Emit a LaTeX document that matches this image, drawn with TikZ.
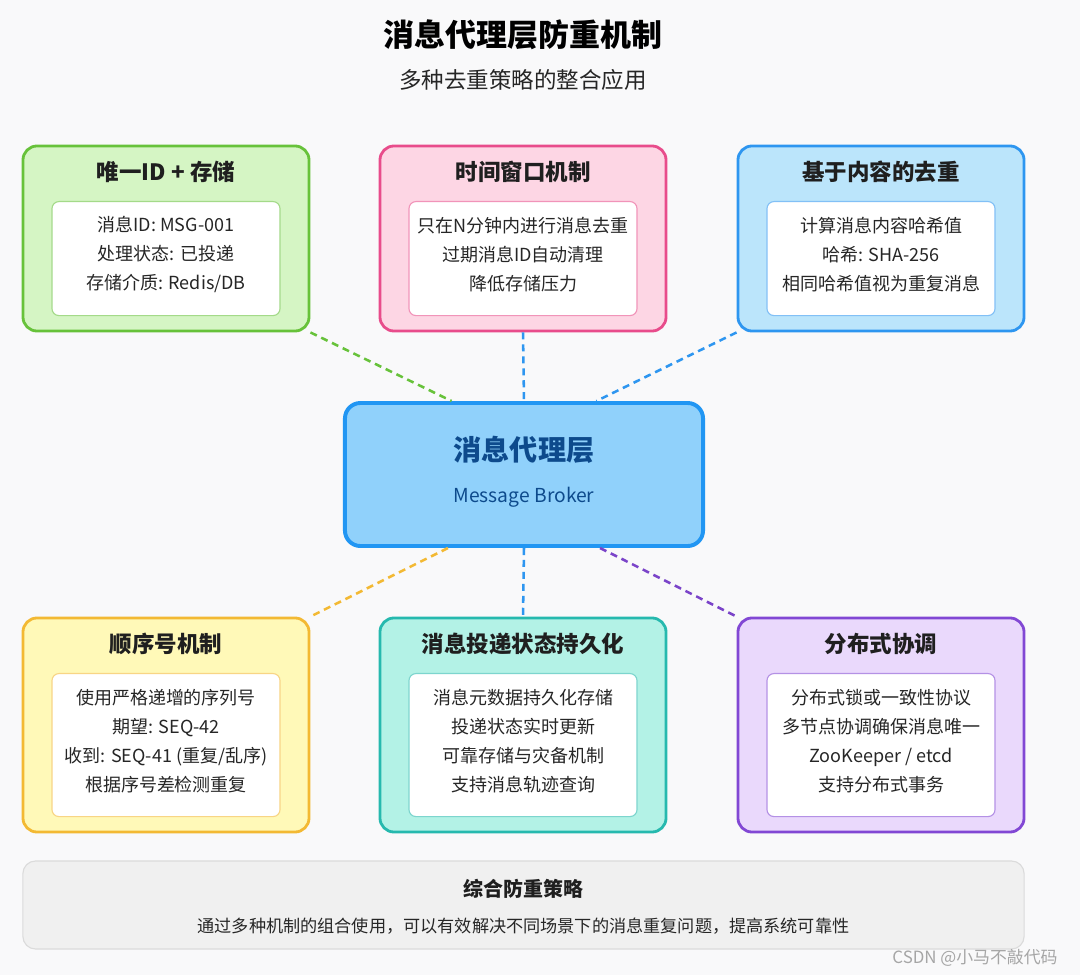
\documentclass[tikz,border=0pt]{standalone}
\usepackage{fontspec}
\setmainfont{Noto Sans CJK SC}
\usetikzlibrary{calc}

\definecolor{bgc}{HTML}{F9F9FA}
\definecolor{gfill}{HTML}{D5F5C4}
\definecolor{gline}{HTML}{67C23A}
\definecolor{pfill}{HTML}{FDD6E4}
\definecolor{pline}{HTML}{E84C8B}
\definecolor{bfill}{HTML}{BBE5FB}
\definecolor{bline}{HTML}{2E96F0}
\definecolor{yfill}{HTML}{FFF9B8}
\definecolor{yline}{HTML}{F3B933}
\definecolor{tfill}{HTML}{B3F2E6}
\definecolor{tline}{HTML}{26B9AE}
\definecolor{vfill}{HTML}{EAD9FC}
\definecolor{vline}{HTML}{8248D4}
\definecolor{cfill}{HTML}{90D1FB}
\definecolor{cline}{HTML}{2196F3}
\definecolor{ctext}{HTML}{0D4A8C}

\begin{document}
\begin{tikzpicture}[x=0.025cm,y=-0.025cm,
  outer/.style={draw,line width=2pt,rounded corners=10pt,minimum width=7.15cm},
  inner/.style={draw,fill=white,line width=0.8pt,rounded corners=5pt,minimum width=5.7cm},
  head/.style={font=\fontsize{16}{19}\selectfont\bfseries,text=black!88},
  body/.style={align=center,font=\fontsize{12.8}{20.6}\selectfont,text=black!85},
  link/.style={line width=1.8pt,dash pattern=on 5pt off 3.5pt}]
  \fill[bgc] (0,0) rectangle (1080,975);
  \useasboundingbox (0,0) rectangle (1080,975);

  % title
  \node[font=\fontsize{22}{26}\selectfont\bfseries] (title) at (523,35) {消息代理层防重机制};
  \node[font=\fontsize{16}{19}\selectfont,text=black!85] (subtitle) at (523,80) {多种去重策略的整合应用};

  % top row
  \node[outer,fill=gfill,draw=gline,minimum height=4.625cm] (uid) at (166,238.5) {};
  \node[outer,fill=pfill,draw=pline,minimum height=4.625cm] (win) at (523,238.5) {};
  \node[outer,fill=bfill,draw=bline,minimum height=4.625cm] (hash) at (881,238.5) {};
  \node[head] (uidt) at ($(uid.north)+(0,27)$) {唯一ID + 存储};
  \node[head] (wint) at ($(win.north)+(0,27)$) {时间窗口机制};
  \node[head] (hasht) at ($(hash.north)+(0,27)$) {基于内容的去重};
  \node[inner,draw=gline!60,minimum height=2.85cm] (uidi) at ($(uid.north)+(0,114)$) {};
  \node[inner,draw=pline!60,minimum height=2.85cm] (wini) at ($(win.north)+(0,114)$) {};
  \node[inner,draw=bline!60,minimum height=2.85cm] (hashi) at ($(hash.north)+(0,114)$) {};
  \node[body] (uidb) at ($(uid.north)+(0,110)$) {消息ID: MSG-001\\处理状态: 已投递\\存储介质: Redis/DB};
  \node[body] (winb) at ($(win.north)+(0,110)$) {只在N分钟内进行消息去重\\过期消息ID自动清理\\降低存储压力};
  \node[body] (hashb) at ($(hash.north)+(0,110)$) {计算消息内容哈希值\\哈希: SHA-256\\相同哈希值视为重复消息};

  % broker
  \node[draw=cline,fill=cfill,line width=2.8pt,rounded corners=11pt,
    minimum width=8.95cm,minimum height=3.575cm] (broker) at (524,474.5) {};
  \node[font=\fontsize{20}{24}\selectfont\bfseries,text=ctext] (brokert) at (524,450) {消息代理层};
  \node[font=\fontsize{13.7}{16}\selectfont,text=ctext] (brokers) at (524,497) {Message Broker};

  % bottom row
  \node[outer,fill=yfill,draw=yline,minimum height=5.35cm] (seq) at (166,725) {};
  \node[outer,fill=tfill,draw=tline,minimum height=5.35cm] (pers) at (523,725) {};
  \node[outer,fill=vfill,draw=vline,minimum height=5.35cm] (dist) at (881,725) {};
  \node[head] (seqt) at ($(seq.north)+(0,27)$) {顺序号机制};
  \node[head] (perst) at ($(pers.north)+(0,27)$) {消息投递状态持久化};
  \node[head] (distt) at ($(dist.north)+(0,27)$) {分布式协调};
  \node[inner,draw=yline!60,minimum height=3.575cm] (seqi) at ($(seq.north)+(0,128.5)$) {};
  \node[inner,draw=tline!60,minimum height=3.575cm] (persi) at ($(pers.north)+(0,128.5)$) {};
  \node[inner,draw=vline!60,minimum height=3.575cm] (disti) at ($(dist.north)+(0,128.5)$) {};
  \node[body] (seqb) at ($(seq.north)+(0,124.5)$) {使用严格递增的序列号\\期望: SEQ-42\\收到: SEQ-41 (重复/乱序)\\根据序号差检测重复};
  \node[body] (persb) at ($(pers.north)+(0,124.5)$) {消息元数据持久化存储\\投递状态实时更新\\可靠存储与灾备机制\\支持消息轨迹查询};
  \node[body] (distb) at ($(dist.north)+(0,124.5)$) {分布式锁或一致性协议\\多节点协调确保消息唯一\\ZooKeeper / etcd\\支持分布式事务};

  % links
  \draw[link,gline] (uid.south east) -- ($(broker.north)!0.4!(broker.north west)$);
  \draw[link,bline] (win.south) -- (broker.north);
  \draw[link,bline] (hash.south west) -- ($(broker.north)!0.4!(broker.north east)$);
  \draw[link,yline] ($(broker.south)!0.42!(broker.south west)$) -- (seq.north east);
  \draw[link,bline] (broker.south) -- (pers.north);
  \draw[link,vline!95!black] ($(broker.south)!0.42!(broker.south east)$) -- (dist.north west);

  % summary
  \node[draw=black!14,fill=black!6,line width=0.8pt,rounded corners=9pt,
    minimum width=25.025cm,minimum height=2.2cm] (sum) at (523.5,905) {};
  \node[font=\fontsize{14.2}{17}\selectfont\bfseries,text=black!88] (sumt) at (523.5,889) {综合防重策略};
  \node[font=\fontsize{12.2}{15}\selectfont,text=black!85] (sumb) at (523.5,926) {通过多种机制的组合使用，可以有效解决不同场景下的消息重复问题，提高系统可靠性};

  \node[font=\fontsize{12}{14}\selectfont,text=black!35] (mark) at (975,958) {CSDN @小马不敲代码};
\end{tikzpicture}
\end{document}
